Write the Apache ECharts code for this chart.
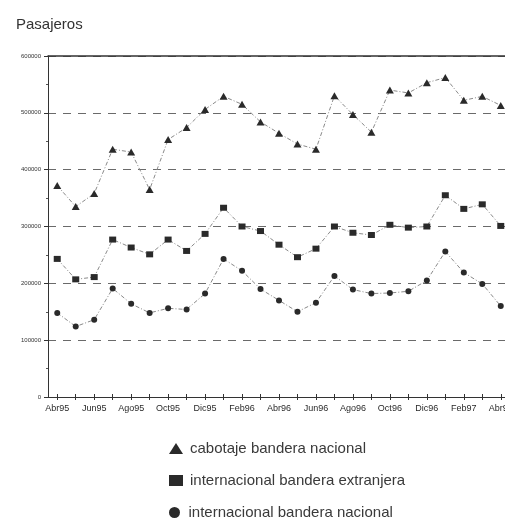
<!DOCTYPE html>
<html>
<head>
<meta charset="utf-8">
<script src="https://cdn.jsdelivr.net/npm/echarts@6/dist/echarts.min.js"></script>
<style>html,body{margin:0;padding:0;background:#fff}#c{width:505px;height:521px}</style>
</head>
<body>
<div id="c"></div>
<script>
const months = ['Abr95','May95','Jun95','Jul95','Ago95','Sep95','Oct95','Nov95','Dic95','Ene96','Feb96','Mar96','Abr96','May96','Jun96','Jul96','Ago96','Sep96','Oct96','Nov96','Dic96','Ene97','Feb97','Mar97','Abr97'];
const cabotajeNacional = [372000,335000,358000,436000,431000,365000,453000,474000,506000,529000,515000,484000,464000,445000,436000,530000,497000,466000,540000,535000,553000,562000,522000,529000,513000];
const internacionalExtranjera = [243000,207000,211000,277000,263000,251000,277000,257000,287000,333000,300000,292000,268000,246000,261000,300000,289000,285000,303000,298000,300000,355000,331000,339000,301000];
const internacionalNacional = [148000,124000,136000,191000,164000,148000,156000,154000,182000,243000,222000,190000,170000,150000,166000,213000,189000,182000,183000,186000,205000,256000,219000,199000,160000];
const seriesNames = ['cabotaje bandera nacional','internacional bandera extranjera','internacional bandera nacional'];
const legendIcons = ['triangle','rect','circle'];

const chart = echarts.init(document.getElementById('c'));
const lineStyle = {color:'#8a8a8a', width:1, type:[4,2,1,2]};
const font = 'Arial, Liberation Sans, sans-serif';
const legendTops = [436, 468, 500];
chart.setOption({
  animation:false,
  backgroundColor:'#fff',
  title:{text:'Pasajeros', left:11, top:12, textStyle:{fontFamily:font, fontSize:15, fontWeight:'normal', color:'#333'}},
  grid:{left:48, top:56, width:462, bottom:124, containLabel:false, outerBoundsMode:'none'},
  xAxis:[{
    type:'category', data:months, boundaryGap:true,
    axisLine:{lineStyle:{color:'#333', width:1}},
    axisTick:{show:true, interval:0, alignWithLabel:true, length:3, lineStyle:{color:'#333'}},
    axisLabel:{interval:1, fontSize:9, color:'#2a2a2a', margin:7, fontFamily:font},
    splitLine:{show:false}
  },{
    type:'category', data:months, position:'bottom', boundaryGap:true,
    axisLine:{show:false},
    axisTick:{show:true, inside:true, interval:0, alignWithLabel:true, length:3, lineStyle:{color:'#333'}},
    axisLabel:{show:false}
  },{
    type:'category', data:months, position:'top', boundaryGap:true,
    axisLine:{show:true, lineStyle:{color:'#333', width:1.5}},
    axisTick:{show:false}, axisLabel:{show:false}
  }],
  yAxis:{
    type:'value', min:0, max:600000, interval:100000,
    axisLine:{show:true, lineStyle:{color:'#333', width:1}},
    axisTick:{show:true, length:4, lineStyle:{color:'#333'}},
    minorTick:{show:true, splitNumber:2, length:2, lineStyle:{color:'#555'}},
    axisLabel:{fontSize:6, color:'#333', margin:7, fontFamily:font, formatter:v => String(v)},
    splitLine:{show:true, lineStyle:{color:'#6a6a6a', width:1, type:[8,7]}}
  },
  legend: seriesNames.map((n, i) => ({
    left:164, top:legendTops[i], itemWidth:14, itemHeight:11,
    textStyle:{fontSize:15, color:'#3a3a3a', fontFamily:font, padding:[0,0,0,2]},
    data:[{name:n, icon:legendIcons[i]}]
  })),
  series:[
    {name:seriesNames[0], type:'line', data:cabotajeNacional, symbol:'triangle', symbolSize:[8,7], showAllSymbol:true,
     itemStyle:{color:'#2a2a2a'}, lineStyle:lineStyle},
    {name:seriesNames[1], type:'line', data:internacionalExtranjera, symbol:'rect', symbolSize:[7,6], showAllSymbol:true,
     itemStyle:{color:'#2a2a2a'}, lineStyle:lineStyle},
    {name:seriesNames[2], type:'line', data:internacionalNacional, symbol:'circle', symbolSize:6, showAllSymbol:true,
     itemStyle:{color:'#2a2a2a'}, lineStyle:lineStyle}
  ]
});
</script>
</body>
</html>
